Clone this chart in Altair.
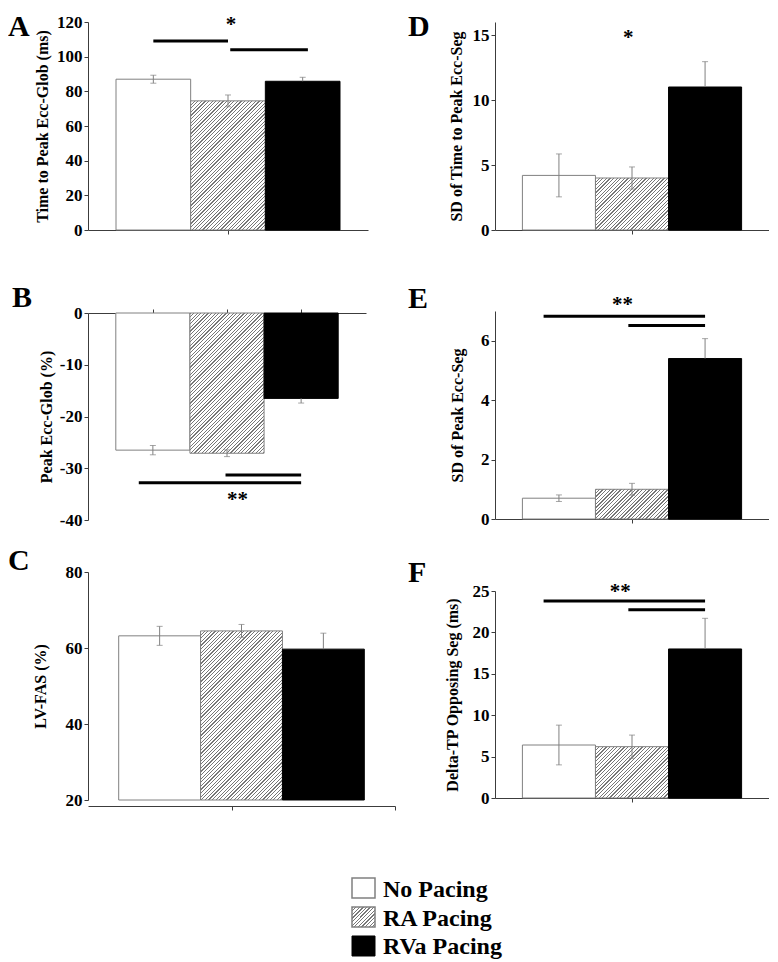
import altair as alt
import pandas as pd

FONT = "'Liberation Serif', 'Times New Roman', serif"
AXIS_COLOR = "#3c3c3c"
GREY = "#808080"

categories = ["No Pacing", "RA Pacing", "RVa Pacing"]
group_index = [1, 2, 3]

# ---- Panel A ----
a_mean = [87.0, 74.5, 85.8]
a_err = [2.3, 3.4, 2.3]
a_ticks = [0, 20, 40, 60, 80, 100, 120]
a_sig_from = [1.0, 2.03]
a_sig_to = [2.0, 3.07]
a_sig_at = [109.0, 104.0]
a_star_text = ["*"]
a_star_x = [2.04]
a_star_y = [119.4]

# ---- Panel B ----
b_mean = [-26.5, -27.1, -16.5]
b_err = [0.9, 0.65, 0.9]
b_ticks = [0, -10, -20, -30, -40]
b_sig_from = [1.98, 0.81]
b_sig_to = [3.0, 3.0]
b_sig_at = [-31.3, -32.8]
b_star_text = ["**"]
b_star_x = [2.14]
b_star_y = [-35.8]

# ---- Panel C ----
c_mean = [63.2, 64.5, 59.7]
c_err = [2.5, 1.7, 4.2]
c_ticks = [20, 40, 60, 80]

# ---- Panel D ----
d_mean = [4.2, 4.0, 11.0]
d_err = [1.65, 0.85, 1.95]
d_ticks = [0, 5, 10, 15]
d_star_text = ["*"]
d_star_x = [1.95]
d_star_y = [14.9]

# ---- Panel E ----
e_mean = [0.7, 1.0, 5.4]
e_err = [0.11, 0.2, 0.67]
e_ticks = [0, 2, 4, 6]
e_sig_from = [0.79, 1.95]
e_sig_to = [3.0, 3.0]
e_sig_at = [6.82, 6.51]
e_star_text = ["**"]
e_star_x = [1.87]
e_star_y = [7.27]

# ---- Panel F ----
f_mean = [6.4, 6.2, 18.0]
f_err = [2.4, 1.4, 3.7]
f_ticks = [0, 5, 10, 15, 20, 25]
f_sig_from = [0.79, 1.95]
f_sig_to = [3.0, 3.0]
f_sig_at = [23.8, 22.75]
f_star_text = ["**"]
f_star_x = [1.84]
f_star_y = [25.1]

X_DOMAIN = [0.125, 3.875]


def hatch_gradient(w, h, period=3.6, frac=0.35, dark="#777777", light="#ffffff"):
    k = (w + h) / (w * w + h * h)
    step = period / (w + h)
    stops = []
    t = 0.0
    while t < 1.0:
        b = min(t + frac * step, 1.0)
        c = min(t + step, 1.0)
        stops += [
            {"offset": round(t, 5), "color": dark},
            {"offset": round(b, 5), "color": dark},
            {"offset": round(b, 5), "color": light},
            {"offset": round(c, 5), "color": light},
        ]
        t += step
    return {"gradient": "linear", "x1": 0, "y1": 0,
            "x2": round(w * k, 5), "y2": round(h * k, 5), "stops": stops}


def panel(mean, err, ticks, dom, width, height, ytitle, tpad, letter, lx, ly,
          sig=None, stars=None, base=0.0, xorient="bottom", xticks=(2,), xoffset=0):
    xs = alt.Scale(domain=X_DOMAIN, nice=False, zero=False)
    ys = alt.Scale(domain=dom, nice=False, zero=False)
    xax = alt.Axis(values=list(xticks), labels=False, title=None, orient=xorient,
                   offset=xoffset, grid=False)
    yax = alt.Axis(values=ticks, title=ytitle, titlePadding=tpad,
                   labelExpr="'' + datum.value", grid=False)

    def X(f):
        return alt.X(f, type="quantitative", scale=xs, axis=xax)

    def Y(f):
        return alt.Y(f, type="quantitative", scale=ys, axis=yax)

    bars = pd.DataFrame({"cat": categories, "i": group_index, "mean": mean, "err": err})
    base_chart = alt.Chart(bars).transform_calculate(
        left="datum.i - 0.5", right="datum.i + 0.5", base=f"{base}")

    white = base_chart.transform_filter("datum.i == 1").mark_rect(
        fill="white", stroke=GREY, strokeWidth=1
    ).encode(x=X("left"), x2="right", y=Y("base"), y2="mean")

    unit_w = width / (X_DOMAIN[1] - X_DOMAIN[0])
    hh = abs(mean[1] - base) / (dom[1] - dom[0]) * height
    hatched = base_chart.transform_filter("datum.i == 2").mark_rect(
        fill=hatch_gradient(unit_w, hh), stroke=GREY, strokeWidth=1
    ).encode(x=X("left"), x2="right", y=Y("base"), y2="mean")

    black = base_chart.transform_filter("datum.i == 3").mark_rect(
        fill="black", stroke="black", strokeWidth=1
    ).encode(x=X("left"), x2="right", y=Y("base"), y2="mean")

    lo, hi, cap_i, cap_v = [], [], [], []
    for i, m, e in zip(group_index, mean, err):
        up = m >= base
        if i == 3:
            l, h = (m, m + e) if up else (m - e, m)
            cap_i.append(i)
            cap_v.append(m + e if up else m - e)
        else:
            l, h = m - e, m + e
            cap_i += [i, i]
            cap_v += [l, h]
        lo.append(l)
        hi.append(h)
    errs = pd.DataFrame({"i": group_index, "lo": lo, "hi": hi})
    caps = pd.DataFrame({"i": cap_i, "v": cap_v})

    err_rule = alt.Chart(errs).mark_rule(color=GREY, strokeWidth=1).encode(
        x=X("i"), y=Y("lo"), y2="hi")
    err_cap = alt.Chart(caps).mark_tick(color=GREY, orient="horizontal", size=6,
                                        thickness=1).encode(x=X("i"), y=Y("v"))

    layers = [white, hatched, black, err_rule, err_cap]

    if sig is not None:
        sdf = pd.DataFrame({"s": sig[0], "e": sig[1], "lvl": sig[2]})
        layers.append(alt.Chart(sdf).mark_rule(color="black", strokeWidth=3).encode(
            x=X("s"), x2="e", y=Y("lvl")))
    if stars is not None:
        tdf = pd.DataFrame({"t": stars[0], "sx": stars[1], "sy": stars[2]})
        layers.append(alt.Chart(tdf).mark_text(
            font=FONT, fontWeight="bold", fontSize=21, baseline="alphabetic",
            dy=8, color="black").encode(x=X("sx"), y=Y("sy"), text="t:N"))

    ldf = pd.DataFrame({"t": [letter]})
    layers.append(alt.Chart(ldf).mark_text(
        font=FONT, fontWeight="bold", fontSize=30, align="left", baseline="top",
        color="black").encode(x=alt.value(lx), y=alt.value(ly), text="t:N"))

    return alt.layer(*layers).properties(width=width, height=height)


A = panel(a_mean, a_err, a_ticks, [0, 120], 280, 208, "Time to Peak Ecc-Glob (ms)", 6.5,
          "A", -80, -10, sig=(a_sig_from, a_sig_to, a_sig_at),
          stars=(a_star_text, a_star_x, a_star_y))
B = panel(b_mean, b_err, b_ticks, [-40, 0], 278, 207, "Peak Ecc-Glob (%)", 5,
          "B", -76, -30, sig=(b_sig_from, b_sig_to, b_sig_at),
          stars=(b_star_text, b_star_x, b_star_y), xorient="top", xticks=(1, 2, 3))
C = panel(c_mean, c_err, c_ticks, [20, 80], 307, 228, "LV-FAS (%)", 17,
          "C", -80, -26, base=20.0, xticks=(1.88, 3.875), xoffset=6)
D = panel(d_mean, d_err, d_ticks, [0, 16], 274, 208, "SD of Time to Peak Ecc-Seg", 8,
          "D", -87, -10, stars=(d_star_text, d_star_x, d_star_y))
E = panel(e_mean, e_err, e_ticks, [0, 7], 274, 208, "SD of Peak Ecc-Seg", 15.5,
          "E", -87, -27, sig=(e_sig_from, e_sig_to, e_sig_at),
          stars=(e_star_text, e_star_x, e_star_y))
F = panel(f_mean, f_err, f_ticks, [0, 25], 274, 207, "Delta-TP Opposing Seg (ms)", 12,
          "F", -87, -33, sig=(f_sig_from, f_sig_to, f_sig_at),
          stars=(f_star_text, f_star_x, f_star_y))

# ---- Legend ----
leg = pd.DataFrame({"label": categories, "i": group_index})
ly_enc = alt.Y("label:N", sort=categories,
               scale=alt.Scale(paddingInner=0.31, paddingOuter=0), axis=None)
leg_base = alt.Chart(leg)
leg_white = leg_base.transform_filter("datum.i == 1").mark_rect(
    fill="white", stroke=GREY, strokeWidth=1.5).encode(
    y=ly_enc, x=alt.value(264), x2=alt.value(287))
leg_hatch = leg_base.transform_filter("datum.i == 2").mark_rect(
    fill=hatch_gradient(23, 20), stroke=GREY, strokeWidth=1.5).encode(
    y=ly_enc, x=alt.value(264), x2=alt.value(287))
leg_black = leg_base.transform_filter("datum.i == 3").mark_rect(
    fill="black", stroke="black", strokeWidth=1).encode(
    y=ly_enc, x=alt.value(264), x2=alt.value(287))
leg_text = leg_base.mark_text(
    font=FONT, fontWeight="bold", fontSize=24, align="left", baseline="alphabetic",
    dy=8.5, color="black").encode(y=ly_enc, x=alt.value(295), text="label:N")
legend = alt.layer(leg_white, leg_hatch, leg_black, leg_text).properties(width=500, height=78)

left = alt.vconcat(A, alt.vconcat(B, C, spacing=18), spacing=45)
right = alt.vconcat(D, alt.vconcat(E, F, spacing=31), spacing=46)
top = alt.hconcat(left, right, spacing=12)

chart = alt.vconcat(top, legend, spacing=66).properties(
    padding={"top": 4, "left": 0, "right": 0, "bottom": 0}, background="white"
).configure_view(stroke=None).configure_axis(
    labelFont=FONT, labelFontWeight="bold", labelFontSize=17, labelColor="black",
    titleFont=FONT, titleFontWeight="bold", titleFontSize=16, titleColor="black",
    domainColor=AXIS_COLOR, tickColor=AXIS_COLOR, tickSize=4, labelPadding=2,
    domainWidth=1, tickWidth=1, grid=False
)

chart.save("out.html", embed_options={"renderer": "svg", "actions": False})
